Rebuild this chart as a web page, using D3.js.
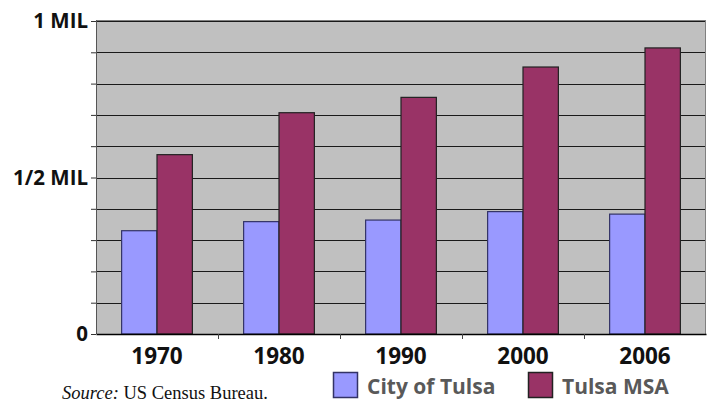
<!DOCTYPE html>
<html>
<head>
<meta charset="utf-8">
<script src="https://cdn.jsdelivr.net/npm/d3@7"></script>
<style>
  body { margin: 0; background: white; }
</style>
</head>
<body>
<div id="chart"></div>
<script>
// population in thousands
var years = ["1970", "1980", "1990", "2000", "2006"];
var series = ["City of Tulsa", "Tulsa MSA"];
var cityTulsa = [330, 359, 364, 391, 383];
var tulsaMsa = [573, 707, 756, 853, 914];
var yTicks = [0, 500, 1000];
var yTickLabels = ["0", "1/2 MIL", "1 MIL"];

var colors = {"City of Tulsa": "#9999ff", "Tulsa MSA": "#993366"};
var strokes = {"City of Tulsa": "#333366", "Tulsa MSA": "#222222"};

var margin = {top: 21, right: 5, bottom: 85, left: 96};
var width = 711 - margin.left - margin.right;
var height = 419 - margin.top - margin.bottom;

var svg = d3.select("#chart").append("svg")
    .attr("width", 711)
    .attr("height", 419)
    .append("g")
    .attr("transform", "translate(" + margin.left + "," + margin.top + ")");

var data = years.map(function(y, i) {
    return {year: y, values: [cityTulsa[i], tulsaMsa[i]]};
});

var x0 = d3.scaleBand().domain(years).range([0, width]);
var groupW = x0.bandwidth() * 0.58;
var x1 = d3.scaleBand().domain(series).range([0, groupW]);
var y = d3.scaleLinear().domain([0, 1000]).range([height, 0]);

// plot background
svg.append("rect")
    .attr("width", width)
    .attr("height", height)
    .style("fill", "#c0c0c0");

// gridlines every 100k
svg.append("g")
    .selectAll("line")
    .data(d3.range(100, 1001, 100))
    .enter().append("line")
    .attr("x1", 0)
    .attr("x2", width)
    .attr("y1", function(d) { return Math.round(y(d)) + 0.5; })
    .attr("y2", function(d) { return Math.round(y(d)) + 0.5; })
    .style("stroke", "#1a1a1a")
    .style("stroke-width", 1);

// frame top/right
svg.append("line")
    .attr("x1", 0).attr("x2", width).attr("y1", -0.5).attr("y2", -0.5)
    .style("stroke", "#808080");
svg.append("line")
    .attr("x1", width - 0.5).attr("x2", width - 0.5).attr("y1", -1).attr("y2", height)
    .style("stroke", "#808080");

// bars
var groups = svg.selectAll(".grp")
    .data(data)
    .enter().append("g")
    .attr("class", "grp")
    .attr("transform", function(d) {
        return "translate(" + (x0(d.year) + (x0.bandwidth() - groupW) / 2) + ",0)";
    });

groups.selectAll("rect")
    .data(function(d) {
        return d.values.map(function(v, i) { return {name: series[i], value: v}; });
    })
    .enter().append("rect")
    .attr("x", function(d) { return x1(d.name); })
    .attr("y", function(d) { return y(d.value); })
    .attr("width", x1.bandwidth())
    .attr("height", function(d) { return height - y(d.value); })
    .style("fill", function(d) { return colors[d.name]; })
    .style("stroke", function(d) { return strokes[d.name]; })
    .style("stroke-width", 1.2);

// y axis
var yAxis = svg.append("g")
    .call(d3.axisLeft(y).tickValues(d3.range(0, 1001, 100)).tickSize(5)
        .tickFormat(function(d) {
            var k = yTicks.indexOf(d);
            return k >= 0 ? yTickLabels[k] : "";
        }));
yAxis.select(".domain").style("stroke", "#555").attr("d", "M0.5,-1V" + height);
yAxis.selectAll(".tick line").style("stroke", "#333");
yAxis.selectAll("text")
    .attr("x", -8)
    .style("font-family", "'Open Sans', sans-serif")
    .style("font-weight", "700")
    .style("font-size", "20.5px")
    .style("fill", "#111");

// x axis
var xAxis = svg.append("g")
    .attr("transform", "translate(0," + height + ")")
    .call(d3.axisBottom(x0).tickSize(0));
xAxis.select(".domain").style("stroke", "#000").style("stroke-width", 1.5);
xAxis.selectAll("text")
    .attr("dy", "1.2em")
    .style("font-family", "'Open Sans', sans-serif")
    .style("font-weight", "700")
    .style("font-size", "22.5px")
    .style("fill", "#111");

// category separator ticks
svg.append("g")
    .selectAll("line")
    .data(years.slice(1))
    .enter().append("line")
    .attr("x1", function(d) { return Math.round(x0(d)) + 0.5; })
    .attr("x2", function(d) { return Math.round(x0(d)) + 0.5; })
    .attr("y1", height)
    .attr("y2", height + 5)
    .style("stroke", "#444");

// source note
var root = d3.select("svg");
var src = root.append("text")
    .attr("x", 62)
    .attr("y", 399)
    .style("font-family", "'Liberation Serif', serif")
    .style("font-size", "18.5px")
    .style("fill", "#111");
src.append("tspan").style("font-style", "italic").text("Source:");
src.append("tspan").text(" US Census Bureau.");

// legend
var legendX = [333, 528];
var legend = root.selectAll(".legend")
    .data(series)
    .enter().append("g")
    .attr("class", "legend")
    .attr("transform", function(d, i) { return "translate(" + legendX[i] + ",372)"; });
legend.append("rect")
    .attr("x", 0.5).attr("y", 0.5)
    .attr("width", 24)
    .attr("height", 25)
    .style("fill", function(d) { return colors[d]; })
    .style("stroke", function(d) { return strokes[d]; })
    .style("stroke-width", 1.5);
legend.append("text")
    .attr("x", 34)
    .attr("y", 22)
    .style("font-family", "'Open Sans', sans-serif")
    .style("font-weight", "700")
    .style("font-size", "21px")
    .style("fill", "#595959")
    .text(function(d) { return d; });
</script>
</body>
</html>
